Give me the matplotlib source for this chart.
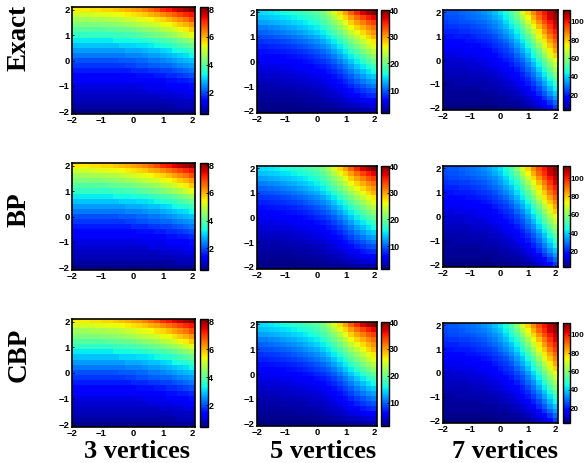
import numpy as np
import matplotlib
matplotlib.use("Agg")
import matplotlib.pyplot as plt
from matplotlib.transforms import ScaledTranslation

# Values estimated by eye from the reference, top row (y=2) first, x=-2..2 left to right.
# The three rows of panels are nearly identical in the reference, so each column's
# table is read once (from the Exact panel) and reused for BP and CBP.
vertices_3 = [
[5.5,5.5,5.5,5.6,5.6,5.7,5.7,5.8,5.9,6.0,6.1,6.2,6.4,6.6,6.8,7.1,7.3,7.5,7.7,7.9,8.1],
[5.1,5.1,5.1,5.1,5.2,5.2,5.3,5.3,5.4,5.5,5.6,5.7,5.8,6.0,6.1,6.3,6.5,6.7,6.9,7.1,7.3],
[4.6,4.6,4.6,4.7,4.7,4.7,4.8,4.8,4.9,5.0,5.1,5.2,5.3,5.4,5.6,5.7,5.9,6.1,6.3,6.5,6.8],
[4.3,4.3,4.3,4.3,4.3,4.4,4.4,4.5,4.5,4.6,4.7,4.8,4.9,5.0,5.1,5.3,5.4,5.6,5.8,6.0,6.2],
[3.9,3.9,3.9,3.9,3.9,3.9,4.0,4.0,4.1,4.1,4.2,4.3,4.4,4.5,4.6,4.8,4.9,5.1,5.3,5.5,5.8],
[3.6,3.6,3.6,3.6,3.6,3.6,3.6,3.7,3.7,3.8,3.8,3.9,4.0,4.1,4.2,4.3,4.5,4.6,4.8,5.0,5.3],
[3.2,3.2,3.2,3.2,3.2,3.2,3.2,3.3,3.3,3.3,3.4,3.4,3.5,3.6,3.7,3.8,3.9,4.0,4.2,4.4,4.6],
[2.9,2.9,2.9,2.9,2.9,2.9,2.9,2.9,3.0,3.0,3.0,3.1,3.1,3.2,3.3,3.4,3.5,3.6,3.8,3.9,4.1],
[2.6,2.6,2.6,2.6,2.6,2.6,2.6,2.6,2.6,2.7,2.7,2.7,2.8,2.9,2.9,3.0,3.1,3.3,3.4,3.5,3.7],
[2.3,2.3,2.3,2.3,2.3,2.3,2.3,2.3,2.3,2.4,2.4,2.4,2.5,2.6,2.6,2.7,2.8,2.9,3.0,3.1,3.3],
[2.0,2.0,2.0,2.0,2.0,2.0,2.0,2.0,2.1,2.1,2.1,2.2,2.2,2.3,2.3,2.4,2.5,2.6,2.7,2.8,2.9],
[1.8,1.8,1.8,1.8,1.8,1.8,1.8,1.8,1.8,1.9,1.9,2.0,2.0,2.1,2.1,2.2,2.2,2.3,2.4,2.5,2.6],
[1.6,1.6,1.6,1.6,1.6,1.6,1.6,1.6,1.6,1.6,1.7,1.7,1.7,1.8,1.8,1.9,1.9,2.0,2.1,2.2,2.3],
[1.4,1.4,1.4,1.4,1.4,1.4,1.4,1.4,1.4,1.4,1.4,1.5,1.5,1.5,1.6,1.6,1.7,1.7,1.8,1.9,2.0],
[1.3,1.3,1.3,1.3,1.3,1.3,1.3,1.3,1.3,1.3,1.3,1.3,1.3,1.4,1.4,1.4,1.5,1.5,1.6,1.6,1.7],
[1.1,1.1,1.1,1.1,1.1,1.1,1.1,1.1,1.1,1.1,1.1,1.1,1.2,1.2,1.2,1.2,1.3,1.3,1.4,1.4,1.5],
[1.0,1.0,1.0,1.0,1.0,1.0,1.0,1.0,1.0,1.0,1.0,1.0,1.0,1.1,1.1,1.1,1.1,1.2,1.2,1.2,1.3],
[0.9,0.9,0.9,0.9,0.9,0.9,0.9,0.9,0.9,0.9,0.9,0.9,0.9,0.9,0.9,1.0,1.0,1.0,1.0,1.1,1.1],
[0.8,0.8,0.8,0.8,0.8,0.8,0.8,0.8,0.8,0.8,0.8,0.8,0.8,0.8,0.8,0.8,0.8,0.9,0.9,0.9,0.9],
[0.7,0.7,0.7,0.7,0.7,0.7,0.7,0.7,0.7,0.7,0.7,0.7,0.7,0.7,0.7,0.7,0.7,0.7,0.8,0.8,0.8],
[0.5,0.5,0.5,0.5,0.5,0.5,0.5,0.5,0.5,0.5,0.5,0.5,0.5,0.5,0.5,0.5,0.6,0.6,0.6,0.6,0.6],
]
vertices_5 = [
[14.5,14.8,15.1,15.5,15.9,16.3,16.8,17.3,17.9,18.5,19.2,20.5,22.5,25,27.5,30,32.5,35,37,38.5,40],
[13.5,13.7,14,14.3,14.7,15.1,15.5,16,16.6,17.2,18,19.2,20.8,23,25.5,27.8,30,32,33.8,35.3,36.5],
[12.3,12.5,12.8,13.1,13.5,13.8,14.3,14.8,15.3,16,16.8,18,19.5,21.3,23.4,25.7,28,29.8,31.3,32.8,34],
[11,11.2,11.5,11.8,12.2,12.6,13,13.5,14,14.7,15.5,16.6,18,19.8,21.7,23.8,26,27.8,29.3,30.8,32],
[9.9,10.1,10.4,10.7,11,11.4,11.8,12.3,12.9,13.5,14.3,15.3,16.7,18.3,20.1,22,24,25.9,27.5,29,30.5],
[9,9.1,9.3,9.6,9.9,10.2,10.6,11.1,11.7,12.3,13,14,15.2,16.7,18.4,20.2,22,24,25.8,27.5,29],
[8.1,8.2,8.4,8.6,8.9,9.2,9.6,10,10.5,11.1,11.8,12.7,13.8,15.2,16.8,18.5,20.3,22.2,24,25.6,27],
[7.3,7.4,7.6,7.8,8,8.3,8.6,9,9.4,10,10.6,11.4,12.4,13.7,15.2,16.9,18.7,20.4,22.2,24,25.5],
[6.6,6.7,6.9,7,7.2,7.4,7.7,8,8.4,8.9,9.5,10.2,11.1,12.3,13.7,15.3,17,18.7,20.4,22,23.5],
[6,6.1,6.2,6.3,6.5,6.7,6.9,7.2,7.5,7.9,8.5,9.1,9.9,11,12.3,13.8,15.3,17,18.6,20.1,21.5],
[5.4,5.5,5.6,5.7,5.8,6,6.2,6.4,6.7,7.1,7.6,8.1,8.8,9.8,11,12.3,13.8,15.4,17,18.3,19.5],
[4.9,4.9,5,5.1,5.2,5.3,5.5,5.7,6,6.3,6.7,7.2,7.8,8.7,9.8,11,12.4,13.8,15.2,16.6,17.8],
[4.4,4.4,4.5,4.5,4.6,4.7,4.9,5.1,5.3,5.6,5.9,6.4,7,7.7,8.7,9.8,11,12.3,13.6,14.9,16],
[3.9,4,4,4,4.1,4.2,4.3,4.5,4.7,4.9,5.2,5.6,6.1,6.8,7.7,8.7,9.8,11,12.2,13.2,14],
[3.5,3.5,3.6,3.6,3.7,3.8,3.9,4,4.2,4.4,4.6,5,5.4,6,6.8,7.7,8.7,9.8,10.8,11.8,12.5],
[3.2,3.2,3.2,3.2,3.3,3.3,3.4,3.5,3.7,3.9,4.1,4.4,4.8,5.3,5.9,6.7,7.6,8.6,9.5,10.3,11],
[2.9,2.9,2.9,2.9,2.9,3,3,3.1,3.2,3.4,3.6,3.8,4.2,4.6,5.1,5.8,6.6,7.5,8.3,9,9.5],
[2.6,2.6,2.6,2.6,2.6,2.6,2.7,2.8,2.9,3,3.2,3.4,3.6,4,4.4,5,5.6,6.3,7,7.6,8],
[2.3,2.3,2.3,2.3,2.3,2.3,2.3,2.4,2.5,2.6,2.7,2.9,3.1,3.4,3.7,4.1,4.6,5,5.4,5.7,6],
[2,2,2,2,2,2,2,2,2.1,2.2,2.3,2.4,2.6,2.8,3,3.3,3.6,3.9,4.2,4.4,4.6],
[1.7,1.7,1.7,1.7,1.7,1.7,1.7,1.7,1.7,1.7,1.8,1.8,1.9,2,2.1,2.3,2.5,2.6,2.8,2.9,3],
]
vertices_7 = [
[26,27,27,28,29,30,31,33,35,38,42,46,52,60,70,78,87,94,101,107,112],
[25,26,26,27,28,29,30,31,33,36,39,44,49,56,65,74,83,91,98,105,110],
[24,25,25,26,26,27,28,29,31,33,36,41,46,52,60,69,78,86,94,101,107],
[22,23,23,24,24,25,26,27,29,31,34,38,43,48,55,64,73,81,89,97,104],
[21,21,21,22,22,23,24,25,27,29,31,35,39,44,51,59,68,76,85,93,100],
[19,19,20,20,20,21,22,23,24,26,29,32,36,41,47,54,63,72,80,89,96],
[18,18,18,18,19,19,20,21,22,24,26,29,33,37,43,50,58,67,76,84,92],
[16,16,17,17,17,18,18,19,20,22,24,26,30,34,39,46,54,62,71,80,88],
[15,15,15,15,16,16,17,17,18,20,22,24,27,31,36,42,49,57,66,75,84],
[13,13,14,14,14,14,15,16,17,18,20,22,24,28,32,38,45,52,61,70,79],
[12,12,12,12,13,13,14,14,15,16,18,20,22,25,29,34,41,48,56,65,73],
[11,11,11,11,12,12,12,13,14,15,16,18,20,23,26,31,37,44,52,60,69],
[10,10,10,10,10,11,11,12,12,13,14,16,18,20,24,28,33,40,47,55,64],
[9,9,9,9,9,10,10,10,11,12,13,14,16,18,21,25,30,36,43,51,59],
[8,8,8,8,8,9,9,9,10,10,11,13,14,16,19,22,27,32,39,46,54],
[7,7,8,8,8,8,8,8,9,9,10,11,12,14,16,20,24,29,35,42,49],
[7,7,7,7,7,7,7,8,8,8,9,10,11,12,14,17,21,25,31,37,44],
[6,6,6,6,6,6,6,7,7,7,8,8,9,10,12,14,18,22,27,33,39],
[6,6,6,6,6,6,6,6,6,6,7,7,8,9,10,12,14,18,23,28,34],
[5,5,5,5,5,5,5,5,5,6,6,6,7,7,8,10,12,14,18,23,29],
[4,4,4,4,4,4,4,4,4,4,5,5,5,6,6,7,9,11,14,18,24],
]
row_labels = ["Exact", "BP", "CBP"]
col_labels = ["3 vertices", "5 vertices", "7 vertices"]
axis_ticks = [-2, -1, 0, 1, 2]
color_limits = [(0.43, 8.15), (1.4, 40.0), (3.6, 113.0)]
color_ticks = [[2, 4, 6, 8], [10, 20, 30, 40], [20, 40, 60, 80, 100]]
tables = [vertices_3, vertices_5, vertices_7]

W, H = 584, 463
plt.rcParams['font.family'] = ['Liberation Sans', 'DejaVu Sans']
fig = plt.figure(figsize=(W / 100, H / 100), dpi=100)

def box(x0, x1, y0, y1):
    return [x0 / W, 1 - y1 / H, (x1 - x0) / W, (y1 - y0) / H]

col_x = [(72, 195, 200, 208), (257, 377, 381, 389), (443, 558, 563, 570)]
row_y = [[(7, 114), (10, 113), (10, 110)],
         [(163, 270), (166, 269), (166, 267)],
         [(319, 427), (322, 426), (323, 423)]]
row_label_y = [37.5, 210, 355]
col_label_x = [137.5, 323, 505]
cb_font = [6.5, 6.5, 5.8]
tick_labels = ['\u2212' + str(-t) if t < 0 else str(t) for t in axis_ticks]
left_shift = ScaledTranslation(-3 / 100, 0, fig.dpi_scale_trans)

for r in range(3):
    for c in range(3):
        ax0, ax1, cb0, cb1 = col_x[c]
        y0, y1 = row_y[r][c]
        ax = fig.add_axes(box(ax0, ax1, y0, y1))
        vmin, vmax = color_limits[c]
        im = ax.imshow(np.array(tables[c]), cmap='jet', vmin=vmin, vmax=vmax,
                       extent=[-2.1, 2.1, -2.1, 2.1], aspect='auto',
                       interpolation='nearest', origin='upper')
        ax.set_xticks(axis_ticks)
        ax.set_yticks(axis_ticks)
        ax.set_xticklabels(tick_labels)
        ax.set_yticklabels(tick_labels)
        ax.tick_params(direction='in', length=1.5, width=0.6, labelsize=6.8, pad=1.5)
        for lab in ax.get_xticklabels() + ax.get_yticklabels():
            lab.set_fontweight('bold')
        for t, lab in zip(axis_ticks, ax.get_xticklabels()):
            if t < 0:
                lab.set_transform(lab.get_transform() + left_shift)
        for s in ax.spines.values():
            s.set_linewidth(1.2)

        cax = fig.add_axes(box(cb0, cb1, y0, y1))
        cb = fig.colorbar(im, cax=cax)
        cb.set_ticks(color_ticks[c])
        cb.ax.tick_params(direction='in', length=1.5, width=0.6,
                          labelsize=cb_font[c], pad=0.2)
        for lab in cb.ax.get_yticklabels():
            lab.set_fontweight('bold')
        cb.outline.set_linewidth(1.0)

for r, lab in enumerate(row_labels):
    fig.text(19 / W, 1 - row_label_y[r] / H, lab, rotation=90, ha='center', va='center',
             family='Liberation Serif', fontweight='bold', fontsize=19.5)

for c, lab in enumerate(col_labels):
    fig.text(col_label_x[c] / W, 1 - 458 / H, lab, ha='center', va='baseline',
             family='Liberation Serif', fontweight='bold', fontsize=19)

fig.savefig('out.png', dpi=100)
